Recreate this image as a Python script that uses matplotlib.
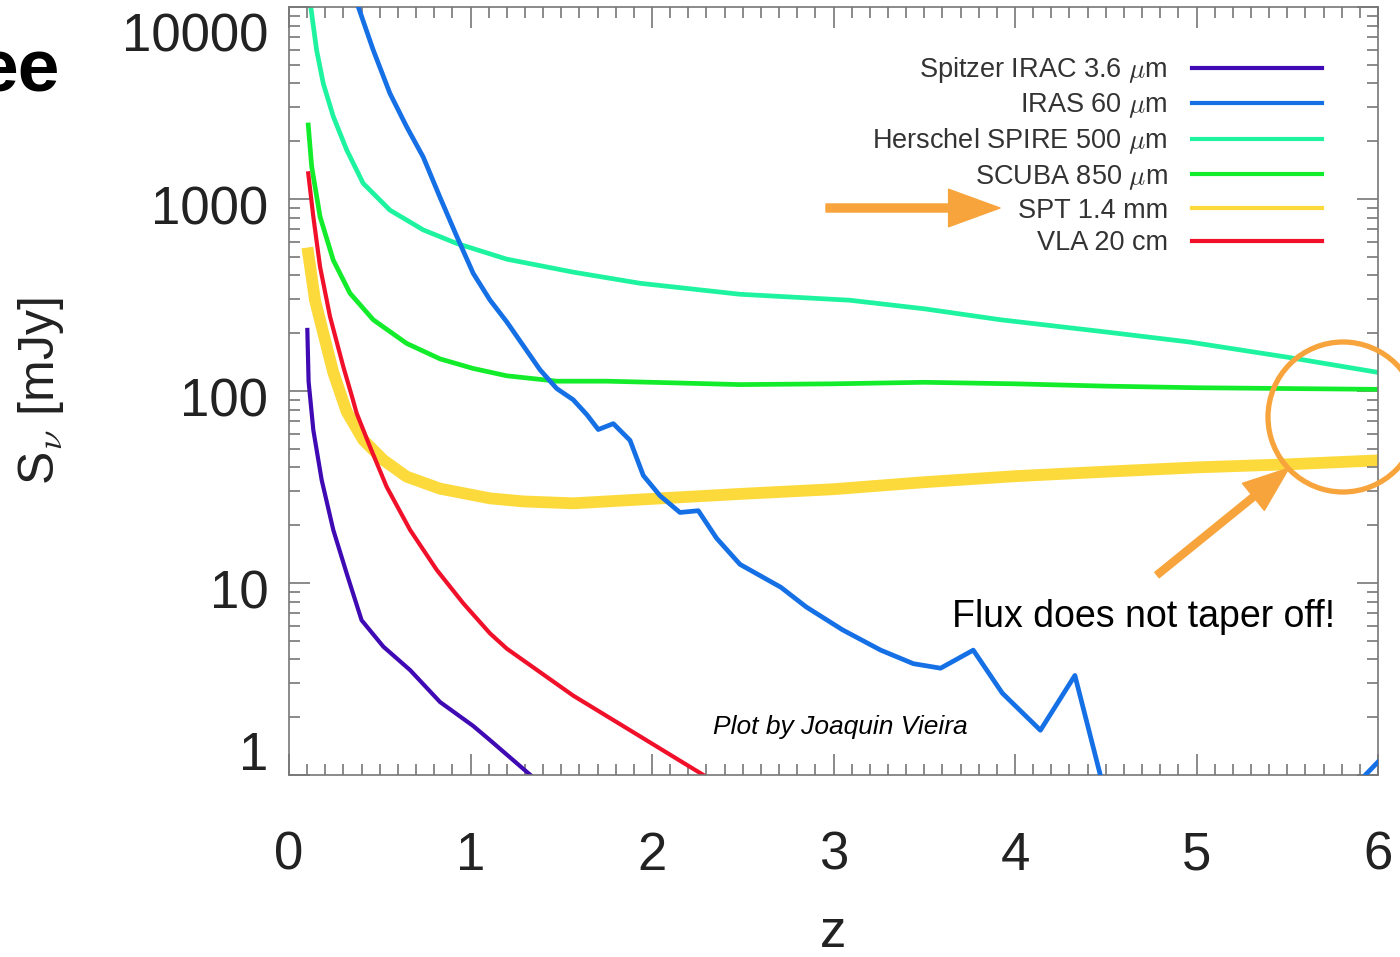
import matplotlib
matplotlib.use("Agg")
import matplotlib.pyplot as plt
import matplotlib.transforms as mtransforms
from matplotlib.patches import Ellipse
from matplotlib.ticker import FixedLocator, MultipleLocator, NullFormatter

plt.rcParams['font.family'] = ['Liberation Sans', 'DejaVu Sans']
plt.rcParams['mathtext.fontset'] = 'cm'

# flux vs redshift
z_irac = [0.101, 0.108, 0.134, 0.18, 0.244, 0.318, 0.40, 0.52, 0.667, 0.832, 1.015, 1.107, 1.33]
s_irac = [208, 112, 62.6, 34.4, 18.9, 11.2, 6.4, 4.66, 3.52, 2.4, 1.8, 1.52, 1.0]

z_iras = [0.35, 0.382, 0.464, 0.556, 0.648, 0.74, 0.832, 0.924, 1.015, 1.107, 1.2, 1.383,
          1.475, 1.566, 1.64, 1.704, 1.787, 1.879, 1.952, 2.044, 2.154, 2.255, 2.356, 2.485,
          2.71, 2.85, 3.05, 3.26, 3.44, 3.59, 3.77, 3.93, 4.14, 4.33, 4.47, 4.55, 5.85,
          5.93, 6.0]
s_iras = [14000, 10000, 5970, 3550, 2380, 1650, 1020, 640, 410, 298, 229, 129,
          103, 90, 75.5, 63, 67.6, 55.3, 36.3, 28.5, 23.3, 23.8, 17.1, 12.5,
          9.5, 7.5, 5.7, 4.47, 3.8, 3.6, 4.47, 2.67, 1.71, 3.3, 1.0, 0.6, 0.6,
          1.0, 1.17]

z_spire = [0.10, 0.12, 0.152, 0.189, 0.244, 0.318, 0.409, 0.556, 0.74, 0.924, 1.2, 1.566,
           1.934, 2.485, 3.09, 3.5, 3.92, 4.5, 4.96, 5.5, 6.0]
s_spire = [14000, 10000, 5970, 3990, 2690, 1800, 1205, 875, 690, 587, 486, 416,
           364, 319, 297, 268, 235, 203, 180, 150, 125]

z_scuba = [0.106, 0.125, 0.171, 0.244, 0.336, 0.464, 0.648, 0.832, 1.015, 1.2, 1.475, 1.75,
           2.0, 2.485, 3.0, 3.5, 4.0, 4.5, 5.0, 5.5, 6.0]
s_scuba = [2430, 1475, 810, 480, 323, 235, 177, 147, 131, 120, 112.5, 112.5,
           111, 108, 109, 111, 109, 106, 104, 103, 102]

z_spt = [0.106, 0.143, 0.189, 0.244, 0.29, 0.318, 0.409, 0.52, 0.648, 0.832, 1.107, 1.291,
         1.566, 2.02, 2.485, 3.0, 3.5, 4.0, 4.5, 5.0, 5.5, 6.0]
s_spt = [521, 298, 200, 125, 93, 78, 55.6, 43.7, 35.8, 31, 27.6, 26.6,
         26, 27.5, 29.1, 30.8, 33.5, 36, 38, 40, 41.5, 43.5]

z_vla = [0.106, 0.134, 0.171, 0.226, 0.299, 0.345, 0.373, 0.446, 0.538, 0.667, 0.814, 0.96,
         1.107, 1.2, 1.566, 1.934, 2.283]
s_vla = [1360, 809, 444, 244, 134, 95, 76.5, 51.3, 31.7, 18.9, 11.7, 7.84,
         5.47, 4.55, 2.59, 1.59, 1.0]

labels = [r'Spitzer IRAC 3.6 $\mu$m', r'IRAS 60 $\mu$m', r'Herschel SPIRE 500 $\mu$m',
          r'SCUBA 850 $\mu$m', 'SPT 1.4 mm', 'VLA 20 cm']
colors = ['#3f0ab4', '#1570e6', '#1ef3a0', '#12ec2a', '#fdda3b', '#f0102a']

y_ticks = [1, 10, 100, 1000, 10000]
y_ticklabels = ['1', '10', '100', '1000', '10000']
x_ticks = [0, 1, 2, 3, 4, 5, 6]

orange = '#f8a43c'
gray = '#777777'
txt = '#222222'

fig = plt.figure(figsize=(14, 9.57), dpi=100)
ax = fig.add_axes([289 / 1400, 1 - 775 / 957, 1089 / 1400, 768 / 957])

ax.plot(z_irac, s_irac, color=colors[0], lw=3.0, label=labels[0], zorder=2)
ax.plot(z_iras, s_iras, color=colors[1], lw=3.4, label=labels[1], zorder=3)
ax.plot(z_spire, s_spire, color=colors[2], lw=3.4, label=labels[2], zorder=2)
ax.plot(z_scuba, s_scuba, color=colors[3], lw=3.4, label=labels[3], zorder=2)
ax.plot(z_spt, s_spt, color=colors[4], lw=8.5, label=labels[4], zorder=1)
ax.plot(z_vla, s_vla, color=colors[5], lw=3.0, label=labels[5], zorder=2.5)

ax.set_yscale('log')
ax.set_xlim(0, 6)
ax.set_ylim(1, 10000)

for side in ax.spines.values():
    side.set_color(gray)
    side.set_linewidth(1.2)

ax.xaxis.set_major_locator(FixedLocator(x_ticks))
ax.xaxis.set_minor_locator(MultipleLocator(0.1))
ax.set_yticks(y_ticks)
ax.set_yticklabels(y_ticklabels)
ax.yaxis.set_minor_formatter(NullFormatter())

ax.tick_params(which='both', direction='in', top=True, right=True, color=gray, width=1.2)
ax.tick_params(which='major', length=15)
ax.tick_params(which='minor', length=8)
ax.tick_params(axis='x', labelsize=38, pad=40, labelcolor=txt)
ax.tick_params(axis='y', labelsize=38, pad=15, labelcolor=txt)

# IDL-style label placement: ends kept inside, middle ones a bit lower
shift_down = mtransforms.ScaledTranslation(0, -6 / 100, fig.dpi_scale_trans)
ylabs = ax.get_yticklabels()
for i, lab in enumerate(ylabs):
    if i == 0:
        lab.set_va('bottom')
    elif i == len(ylabs) - 1:
        lab.set_va('top')
    lab.set_transform(lab.get_transform() + shift_down)

ax.set_xlabel('z', fontsize=38, color=txt, labelpad=20)
ax.set_ylabel(r'S$_\nu$ [mJy]', fontsize=36, color=txt, labelpad=40)

leg = ax.legend(loc='upper right', bbox_to_anchor=(1322 / 1400, 1 - 55 / 957),
                bbox_transform=fig.transFigure, frameon=False, markerfirst=False,
                fontsize=19.5, handlelength=4.8, handletextpad=0.9, labelspacing=0.23,
                borderpad=0, borderaxespad=0)
for line in leg.get_lines():
    line.set_linewidth(3)
for t in leg.get_texts():
    t.set_color('#333333')

# slide annotations (the slide title is cut at the left edge in the original)
fig.text(-24 / 1400, 1 - 72 / 957, 'ee', fontsize=54, fontweight='bold', va='center', ha='left')
ax.text(0.961, 0.2057, 'Flux does not taper off!', transform=ax.transAxes,
        fontsize=27, ha='right', va='center', color='black')
ax.text(0.3893, 0.0625, 'Plot by Joaquin Vieira', transform=ax.transAxes,
        fontsize=19, style='italic', ha='left', va='center', color='black')

ax.annotate('', xy=(1000, 957 - 208), xytext=(826, 957 - 208), xycoords='figure pixels',
            arrowprops=dict(arrowstyle='simple,head_length=37,head_width=27,tail_width=5.8',
                            color=orange, mutation_scale=1, shrinkA=0, shrinkB=0))
ax.annotate('', xy=(1289, 957 - 468), xytext=(1157, 957 - 575), xycoords='figure pixels',
            arrowprops=dict(arrowstyle='simple,head_length=33,head_width=25,tail_width=5',
                            color=orange, mutation_scale=1, shrinkA=0, shrinkB=0))
fig.patches.append(Ellipse((1343 / 1400, 1 - 417 / 957), 150 / 1400, 150 / 957,
                           transform=fig.transFigure, fill=False, edgecolor=orange,
                           linewidth=3.8, zorder=5))

fig.savefig('out.png', dpi=100)
